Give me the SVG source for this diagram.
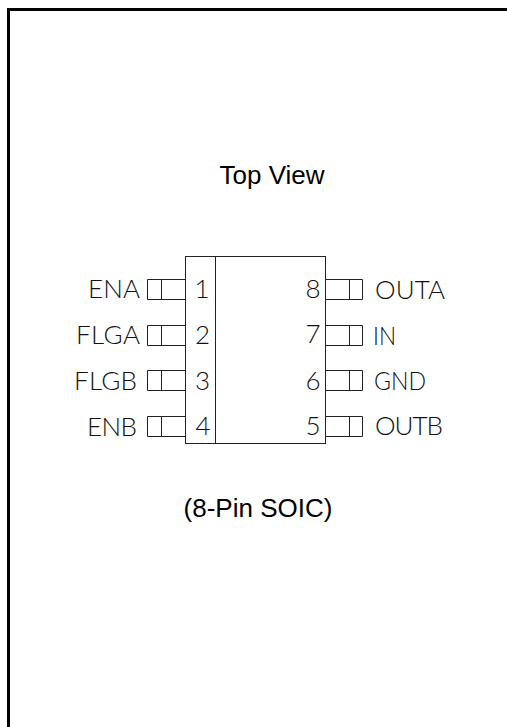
<svg xmlns="http://www.w3.org/2000/svg" width="507" height="727" viewBox="0 0 507 727">
<style>
.cap{font-family:"Liberation Sans",Arial,sans-serif;font-size:26px;fill:#000;text-anchor:middle}
.pin{font-family:"Lato","Liberation Sans",sans-serif;font-weight:300;font-size:26px;fill:#111}
.num{font-family:"Lato","Liberation Sans",sans-serif;font-weight:300;font-size:26px;fill:#111;text-anchor:middle}
.l{fill:none;stroke:#222;stroke-width:1}
</style>
<rect width="507" height="727" fill="#fff"/>
<path id="frame" d="M8.500 727V9.500H507" fill="none" stroke="#000" stroke-width="3"/>
<text class="cap" x="272" y="184">Top View</text>
<text class="cap" x="258" y="517">(8-Pin SOIC)</text>
<g id="package"><rect class="l" x="185.500" y="256.500" width="140" height="187"/><path class="l" d="M215.500 256.500V443.500"/></g>
<g id="connectors">
<path class="l" d="M185 279.500H147.500V299.500H185M161.500 279.500V299.500"/>
<path class="l" d="M185 325.500H147.500V345.500H185M161.500 325.500V345.500"/>
<path class="l" d="M185 370.500H147.500V390.500H185M161.500 370.500V390.500"/>
<path class="l" d="M185 416.500H147.500V436.500H185M161.500 416.500V436.500"/>
<path class="l" d="M326 279.500H362.500V299.500H326M349.500 279.500V299.500"/>
<path class="l" d="M326 325.500H362.500V345.500H326M349.500 325.500V345.500"/>
<path class="l" d="M326 370.500H362.500V390.500H326M349.500 370.500V390.500"/>
<path class="l" d="M326 416.500H362.500V436.500H326M349.500 416.500V436.500"/>
</g>
<g id="pin1"><text class="pin" x="88" y="298" textLength="52">ENA</text><text class="num" x="202" y="298">1</text></g>
<g id="pin2"><text class="pin" x="76" y="344" textLength="64">FLGA</text><text class="num" x="202.500" y="344">2</text></g>
<g id="pin3"><text class="pin" x="74" y="390" textLength="63">FLGB</text><text class="num" x="202.500" y="390">3</text></g>
<g id="pin4"><text class="pin" x="87" y="436" textLength="50">ENB</text><text class="num" x="203" y="435">4</text></g>
<g id="pin8"><text class="num" x="313" y="298">8</text><text class="pin" x="375" y="299" textLength="70">OUTA</text></g>
<g id="pin7"><text class="num" x="313" y="343">7</text><text class="pin" x="373" y="345" textLength="23" lengthAdjust="spacingAndGlyphs">IN</text></g>
<g id="pin6"><text class="num" x="313" y="390">6</text><text class="pin" x="374" y="390" textLength="52" lengthAdjust="spacingAndGlyphs">GND</text></g>
<g id="pin5"><text class="num" x="313" y="435">5</text><text class="pin" x="375" y="435" textLength="68">OUTB</text></g>
</svg>
